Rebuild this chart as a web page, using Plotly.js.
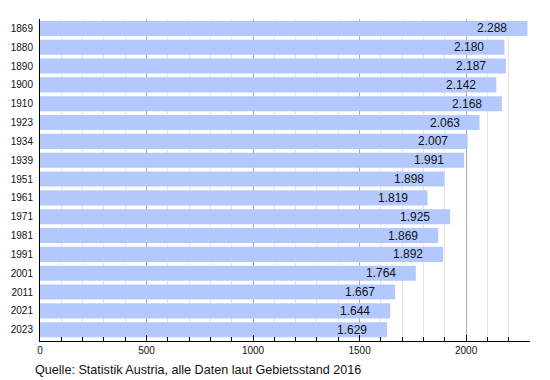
<!DOCTYPE html>
<html><head><meta charset="utf-8">
<script src="https://cdn.plot.ly/plotly-3.0.1.min.js"></script>
<style>body{margin:0;background:#fff}#c{width:550px;height:380px}</style>
</head><body><div id="c"></div>
<script>
const years = ['1869','1880','1890','1900','1910','1923','1934','1939','1951','1961','1971','1981','1991','2001','2011','2021','2023'];
const population = [2288,2180,2187,2142,2168,2063,2007,1991,1898,1819,1925,1869,1892,1764,1667,1644,1629];
const labels = ['2.288','2.180','2.187','2.142','2.168','2.063','2.007','1.991','1.898','1.819','1.925','1.869','1.892','1.764','1.667','1.644','1.629'];
const xTicks = [0,500,1000,1500,2000];

const annotations = years.map((y,i)=>({
  x: population[i], y: i, xref:'x', yref:'y', text: labels[i], showarrow:false,
  xanchor:'right', xshift:-18, font:{family:'Liberation Sans, Arial, sans-serif', size:12, color:'#111'}
}));
annotations.push({xref:'paper', yref:'paper', x:-0.015, y:-0.09, xanchor:'left', yanchor:'middle', showarrow:false,
  text:'Quelle: Statistik Austria, alle Daten laut Gebietsstand 2016',
  font:{family:'Liberation Sans, Arial, sans-serif', size:12.6, color:'#111'}});

Plotly.newPlot('c', [{
  type:'bar', orientation:'h', x: population, y: years,
  marker:{color:'#b3c9fd', line:{width:0}}, hoverinfo:'none'
}], {
  width:550, height:380, margin:{l:40, r:20, t:19, b:39},
  paper_bgcolor:'#fff', plot_bgcolor:'#fff', bargap:0.2, showlegend:false,
  font:{family:'Liberation Sans, Arial, sans-serif', size:10, color:'#111'},
  xaxis:{range:[0,2300], tickvals:xTicks, ticktext:xTicks.map(String), showgrid:true, gridcolor:'#aaaaaa', gridwidth:1,
    ticks:'inside', ticklen:6, tickcolor:'#000', showline:true, linecolor:'#000', linewidth:1, zeroline:false,
    minor:{dtick:100, tick0:0, showgrid:true, gridcolor:'#e4e4e4', ticks:'inside', ticklen:4, tickcolor:'#000'},
    tickfont:{size:10}},
  yaxis:{type:'category', range:[16.6,-0.5], showgrid:false, showline:true, linecolor:'#000', linewidth:1,
    ticks:'', tickfont:{size:10}, ticklabelstandoff:4},
  annotations: annotations
}, {staticPlot:true});
</script></body></html>
